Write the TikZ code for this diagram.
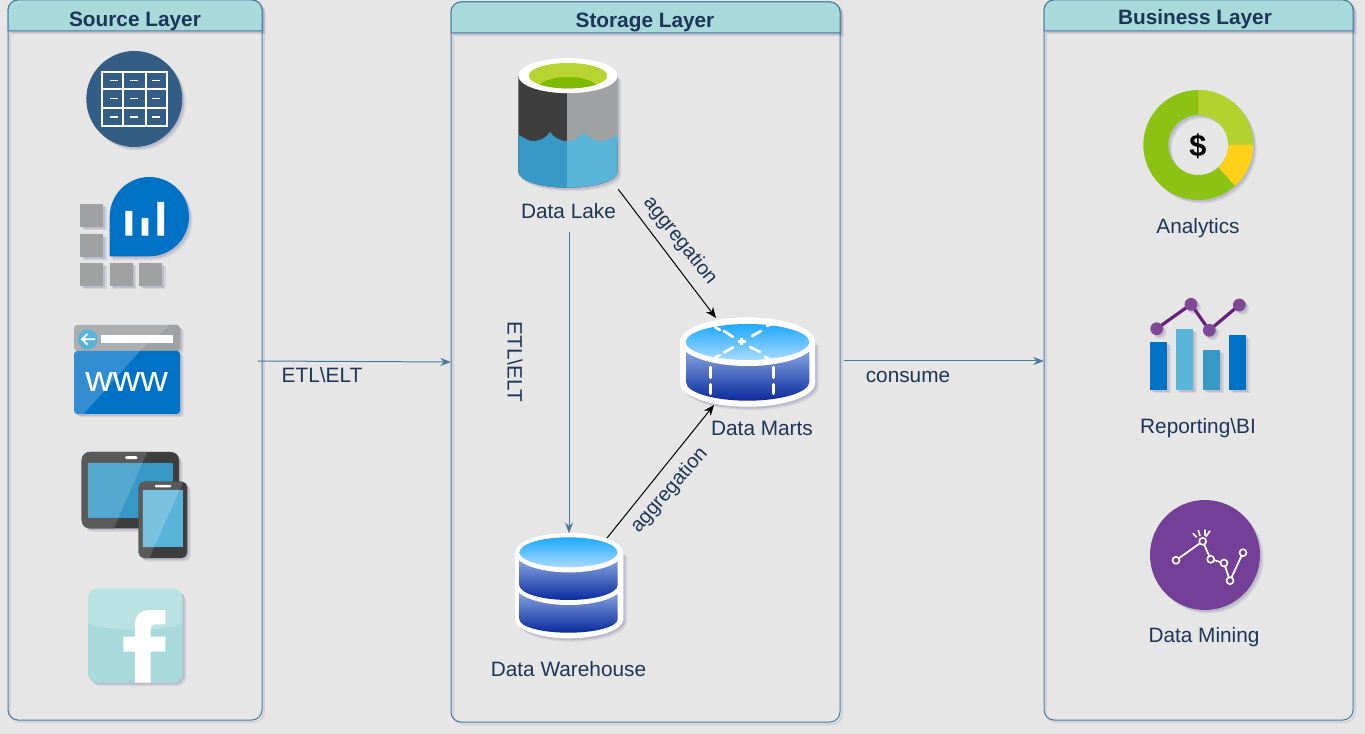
\documentclass[tikz,border=0pt]{standalone}
\usepackage{fontspec}
\setmainfont{Liberation Sans}
\usetikzlibrary{arrows.meta}
\definecolor{bgc}{HTML}{E6E6E6}
\definecolor{headc}{HTML}{A8DADC}
\definecolor{linec}{HTML}{457B9D}
\definecolor{txtc}{HTML}{1D3557}
\definecolor{shc}{HTML}{4A4A80}
\definecolor{msblue}{HTML}{0072C6}
\definecolor{msgray}{HTML}{A0A1A3}
\definecolor{mslblue}{HTML}{59B4D9}
\definecolor{msmblue}{HTML}{3999C6}
\definecolor{msdark}{HTML}{3E3E3E}
\definecolor{msmid}{HTML}{5A5A5A}
\definecolor{tablec}{HTML}{335D85}
\definecolor{purplec}{HTML}{743F96}
\definecolor{purpled}{HTML}{68217A}
\definecolor{purplel}{HTML}{804998}
\definecolor{greenm}{HTML}{8CC214}
\definecolor{greenl}{HTML}{B4D22E}
\definecolor{yellowc}{HTML}{FFD01A}
\definecolor{lakeg}{HTML}{B8D432}
\definecolor{lakeh}{HTML}{7FBA00}
\definecolor{topa}{HTML}{1FA9FF}
\definecolor{topb}{HTML}{A8DAFF}
\definecolor{sidea}{HTML}{86A4DE}
\definecolor{sideb}{HTML}{0A2A9E}
\def\px{.75pt}
\tikzset{
  x=.75pt,y=-.75pt,
  sh/.style={
    preaction={draw=none,fill=shc,fill opacity=.12,transform canvas={shift={(3.5,3.5)}}},
    preaction={draw=none,fill=shc,fill opacity=.16,transform canvas={shift={(2,2)}}}},
  panel/.style={draw=linec,line width=\px,rounded corners=7.5pt,inner sep=0pt,
    preaction={draw=shc,draw opacity=.12,line width=1.5pt,transform canvas={shift={(2,2)}}}},
  panelhead/.style={draw=linec,fill=headc,line width=\px,sh},
  title/.style={font=\fontsize{15.6pt}{18pt}\selectfont\bfseries,text=txtc,inner sep=0pt},
  lbl/.style={font=\fontsize{15.6pt}{18pt}\selectfont,text=txtc,inner sep=0pt},
  rlbl/.style={font=\fontsize{15pt}{18pt}\selectfont,text=txtc,inner sep=0pt},
  iconbox/.style={inner sep=0pt,draw=none},
  flow/.style={draw=linec,line width=\px,-{Stealth[length=8pt,width=6pt]}},
  blackflow/.style={draw=black,line width=\px,-{Stealth[length=8pt,width=6.5pt]}},
  tline/.style={draw=white,line width=1.3pt},
  tdash/.style={draw=white,line width=1.1pt},
  mdash/.style={draw=white,line width=2.4pt,line cap=round},
}
\begin{document}
\begin{tikzpicture}
\useasboundingbox (0,0) rectangle (1365,734);
\fill[bgc] (0,0) rectangle (1365,734);

%% panels
\node[panel,minimum width=254*\px,minimum height=720*\px] (source) at (135,360) {};
\node[panel,minimum width=389*\px,minimum height=720*\px] (storage) at (645.5,362) {};
\node[panel,minimum width=309*\px,minimum height=720*\px] (business) at (1198.5,360) {};
\path[panelhead] (8,31) [rounded corners=7.5pt] -- (8,0) -- (262,0) [sharp corners] -- (262,31) -- cycle;
\path[panelhead] (451,33) [rounded corners=7.5pt] -- (451,2) -- (840,2) [sharp corners] -- (840,33) -- cycle;
\path[panelhead] (1044,31) [rounded corners=7.5pt] -- (1044,0) -- (1353,0) [sharp corners] -- (1353,31) -- cycle;
\node[title] (t1) at (135,21) {Source Layer};
\node[title] (t2) at (645,22) {Storage Layer};
\node[title] (t3) at (1195,19) {Business Layer};

%% table icon
\fill[tablec,sh] (134.3,99) circle (48);
\draw[tline] (102.3,71.7) rectangle (166.7,126);
\draw[tline] (102.3,89) -- (166.7,89) (102.3,108.3) -- (166.7,108.3) (123,71.7) -- (123,126) (145.7,71.7) -- (145.7,126);
\foreach \cx in {113.5,134.3,156}{\foreach \cy in {80.5,98.7,117}{\draw[tdash] (\cx-4,\cy) -- (\cx+4,\cy);}}

%% squares + drop
\foreach \qx/\qy in {80/204,80/233.7,80/263,109.7/263,139/263}{\fill[msgray,sh] (\qx,\qy) rectangle ++(23,23);}
\fill[msblue,sh] (109.7,256.3) -- (109.7,216.7) .. controls (109.7,194.8) and (127.4,177) .. (149.3,177)
  .. controls (171.2,177) and (189,194.8) .. (189,216.7) .. controls (189,238.6) and (171.2,256.3) .. (149.3,256.3) -- cycle;
\fill[white] (125.3,211) rectangle (132.3,235.7) (141.7,218) rectangle (148.3,235.7) (157.3,202) rectangle (164,235.7);

%% www
\fill[msgray,sh,rounded corners=2.5pt] (74,351) -- (74,325) -- (180,325) -- (180,351) -- cycle;
\fill[msblue,sh,rounded corners=2.5pt] (74,351) -- (74,414) -- (180,414) -- (180,351) -- cycle;
\fill[white,opacity=.2] (74,351) -- (74,414) -- (83.5,414) -- (140,351) -- cycle;
\fill[white,opacity=.14,rounded corners=2pt] (74,351) -- (74,325) -- (170,325) -- (140,351) -- cycle;
\fill[mslblue] (87.7,339.3) circle (10);
\draw[white,line width=1.3pt] (82,339.3) -- (95,339.3) (87.5,334) -- (82,339.3) -- (87.5,344.6);
\fill[white] (101.3,335) rectangle (172.7,343.3);
\node[iconbox,text=white,font=\fontsize{27pt}{27pt}\selectfont,xscale=1.06] (www) at (126.7,381.5) {www};

%% devices
\fill[msdark,sh,rounded corners=6pt] (81.7,452) rectangle (179,528.3);
\begin{scope}
\clip[rounded corners=6pt] (81.7,452) rectangle (179,528.3);
\fill[msmid] (81.7,452) -- (147.3,452) -- (114,528.3) -- (81.7,528.3) -- cycle;
\end{scope}
\fill[msmblue] (87.7,462.7) rectangle (172.7,517.7);
\fill[white,opacity=.14] (87.7,462.7) -- (142.6,462.7) -- (118.6,517.7) -- (87.7,517.7) -- cycle;
\fill[white,rounded corners=1.1pt] (125,456.2) rectangle (137.6,459.2);
\fill[msdark,sh,rounded corners=4pt] (138.7,481.7) rectangle (187.3,558);
\begin{scope}
\clip[rounded corners=4pt] (138.7,481.7) rectangle (187.3,558);
\fill[msmid] (138.7,481.7) -- (183.3,481.7) -- (149.3,558) -- (138.7,558) -- cycle;
\end{scope}
\fill[mslblue] (142.7,490) rectangle (183.3,547.3);
\fill[white,opacity=.2] (142.7,490) -- (179.6,490) -- (154,547.3) -- (142.7,547.3) -- cycle;
\fill[white,rounded corners=1pt] (154.5,484.8) rectangle (171.5,487.3);

%% facebook
\fill[headc,sh,rounded corners=7pt] (88,588.7) rectangle (182.7,682.7);
\begin{scope}
\clip[rounded corners=7pt] (88,588.7) rectangle (182.7,682.7);
\fill[white,opacity=.22] (88,588.7) -- (182.7,588.7) -- (182.7,623.5) .. controls (160,632) and (110,632) .. (88,623.5) -- cycle;
\end{scope}
\fill[white] (135,682.7) -- (135,651.7) -- (123.3,651.7) -- (123.3,636.7) -- (135,636.7) -- (135,625)
  .. controls (135,615) and (141,610) .. (150,610) -- (165.3,610) -- (165.3,624.3) -- (156,624.3)
  .. controls (152,624.3) and (150.7,626) .. (150.7,630) -- (150.7,636.7) -- (165.3,636.7) -- (165.3,651.7) -- (150.7,651.7) -- (150.7,682.7) -- cycle;

%% data lake
\node[iconbox,minimum width=100*\px,minimum height=130*\px] (lake) at (568,124) {};
\fill[msdark,sh] (518.3,75.7) -- (518.3,171.7) .. controls (518.3,180.5) and (540,187.7) .. (568,187.7)
  .. controls (596,187.7) and (617.7,180.5) .. (617.7,171.7) -- (617.7,75.7) -- cycle;
\fill[msgray] (567,75.7) rectangle (617.7,141);
\fill[msmblue] (518.3,135) .. controls (525,138) and (528,141) .. (533,141)
  .. controls (541,141) and (547,137) .. (550,131.7) .. controls (553,137) and (559,141) .. (567,141)
  -- (567,187.7) .. controls (540,187.7) and (518.3,180.5) .. (518.3,171.7) -- cycle;
\fill[mslblue] (567,141) .. controls (575,141) and (581,137) .. (584,131.7)
  .. controls (587,137) and (593,141) .. (601,141) .. controls (607,141) and (612,138) .. (617.7,135)
  -- (617.7,171.7) .. controls (617.7,180.5) and (596,187.7) .. (567,187.7) -- cycle;
\fill[white] (568,75.7) ellipse [x radius=49.7,y radius=17.5];
\fill[lakeg] (568,75.7) ellipse [x radius=39.3,y radius=12.7];
\begin{scope}
\clip (568,75.7) ellipse [x radius=39.3,y radius=12.7];
\fill[lakeh] (568,91) ellipse [x radius=32,y radius=14];
\end{scope}
\node[lbl] (lakeLabel) at (568.5,211) {Data Lake};

%% data marts
\node[iconbox,minimum width=135*\px,minimum height=90*\px] (marts) at (747.5,362) {};
\fill[white,sh] (680,341.7) -- (680,383) .. controls (680,396) and (710,406.7) .. (747.5,406.7)
  .. controls (785,406.7) and (815,396) .. (815,383) -- (815,341.7) -- cycle;
\shade[top color=sidea,bottom color=sideb] (686,351) -- (686,382) .. controls (686,392.5) and (714,400.7) .. (747.5,400.7)
  .. controls (781,400.7) and (809.3,392.5) .. (809.3,382) -- (809.3,351) -- cycle;
\fill[white] (747.5,341.7) ellipse [x radius=67.5,y radius=24.3];
\shade[top color=topa,bottom color=topb] (747.5,342) ellipse [x radius=61.7,y radius=18];
\foreach \ax/\ay/\bx/\by in {715/327/720/330, 724/331/733/337, 750/347/760/352, 765/357/772/361, 767/326/773/323.5, 752/336/761/331, 724/352.5/733/347.5, 714/358/720/355}{\draw[white,line width=2pt,line cap=round] (\ax,\ay) -- (\bx,\by);}
\draw[white,line width=2.2pt] (737.5,341.7) -- (746,341.7) (741.7,338) -- (741.7,345.5);
\draw[mdash] (710.7,367.3) -- (710.7,377.5) (710.7,384.5) -- (710.7,393.5) (773.3,367.3) -- (773.3,377.5) (773.3,384.5) -- (773.3,393.5);
\node[lbl] (martsLabel) at (762,428) {Data Marts};

%% data warehouse
\node[iconbox,minimum width=108*\px,minimum height=105*\px] (wh) at (569,586) {};
\fill[white,sh] (515,552.7) -- (515,619) .. controls (515,630) and (540,638.3) .. (569,638.3)
  .. controls (598,638.3) and (623.3,630) .. (623.3,619) -- (623.3,552.7) -- cycle;
\shade[top color=sidea,bottom color=sideb] (519.3,592) -- (519.3,619) .. controls (519.3,627) and (542,632.7) .. (568.5,632.7)
  .. controls (595,632.7) and (617.7,627) .. (617.7,619) -- (617.7,592) -- cycle;
\fill[white] (569,585) ellipse [x radius=54,y radius=20];
\shade[top color=sidea,bottom color=sideb] (519.3,560) -- (519.3,585) .. controls (519.3,593.5) and (542,600) .. (568.5,600)
  .. controls (595,600) and (617.7,593.5) .. (617.7,585) -- (617.7,560) -- cycle;
\fill[white] (569,552.7) ellipse [x radius=54,y radius=19.7];
\shade[top color=topa,bottom color=topb] (568.5,552.3) ellipse [x radius=49,y radius=15];
\node[lbl] (whLabel) at (568.5,669) {Data Warehouse};

%% analytics
\fill[shc,fill opacity=.12,even odd rule,transform canvas={shift={(3.5,3.5)}}] (1198.3,145) circle (55) (1198.3,145) circle (30);
\fill[shc,fill opacity=.16,even odd rule,transform canvas={shift={(2,2)}}] (1198.3,145) circle (55) (1198.3,145) circle (30);
\fill[greenm,even odd rule] (1198.3,145) circle (55) (1198.3,145) circle (30);
\fill[greenl] (1198.3,90) -- (1198.3,115) arc [start angle=-90,end angle=0,radius=30] -- (1253.3,145) arc [start angle=0,end angle=-90,radius=55] -- cycle;
\fill[yellowc] (1228.3,145) -- (1253.3,145) arc [start angle=0,end angle=48,radius=55] -- (1218.4,167.3) arc [start angle=48,end angle=0,radius=30] -- cycle;
\node[iconbox,font=\fontsize{23pt}{23pt}\selectfont\bfseries,text=black] (dollar) at (1198,146) {\$};
\node[lbl] (anLabel) at (1198,228) {Analytics};

%% reporting
\fill[msblue,sh] (1150,342) rectangle (1167,390);
\fill[mslblue,sh] (1176.3,329) rectangle (1193.3,390);
\fill[msmblue,sh] (1203,349.7) rectangle (1220,390);
\fill[msblue,sh] (1229.3,335.3) rectangle (1246.3,390);
\draw[purpled,line width=2.4pt] (1156.7,328.7) -- (1191,304.3) -- (1209.3,330.3) -- (1239.3,305);
\foreach \dx/\dy in {1156.7/328.7,1191/304.3,1209.3/330.3,1239.3/305}{\fill[purplel,sh] (\dx,\dy) circle (6.4);}
\node[lbl] (repLabel) at (1198,428) {Reporting\textbackslash BI};

%% mining
\fill[purplec,sh] (1205,555) circle (55);
\draw[white,line width=1.3pt] (1176,560.3) -- (1202.7,541.3) -- (1210.7,559.3) -- (1224,563) -- (1230,580.7) -- (1243,552.7);
\foreach \dx/\dy in {1176/560.3,1202.7/541.3,1210.7/559.3,1224/563,1230/580.7,1243/552.7}{\filldraw[draw=white,fill=purplec,line width=1.2pt] (\dx,\dy) circle (3.5);}
\draw[white,line width=1.2pt] (1192.7,533.3) -- (1196.7,537.3) (1198.3,530) -- (1200,536) (1205,529.5) -- (1205,535.5) (1210,530.7) -- (1206,536.7);
\node[lbl] (minLabel) at (1204,637) {Data Mining};

%% connectors
\coordinate (srcOut) at (258,361);
\coordinate (stoIn) at (451,362);
\coordinate (stoOut) at (844,361);
\coordinate (busIn) at (1044,361);
\coordinate (lakeOut) at (569,232);
\coordinate (martsTop) at (716,318);
\coordinate (whOut) at (607,538);
\coordinate (martsBot) at (714,405);
\draw[flow] (srcOut) -- (stoIn);
\draw[flow] (stoOut) -- (busIn);
\draw[flow] (lakeOut) -- (wh.north);
\draw[blackflow] (lake.south east) -- (martsTop);
\draw[blackflow] (whOut) -- (martsBot);

%% connector labels
\node[lbl] (l1) at (322,375) {ETL\textbackslash ELT};
\node[lbl,rotate=-90] (l2) at (515,362) {ETL\textbackslash ELT};
\node[rlbl,rotate=-51.5] (l3) at (680,241) {aggregation};
\node[rlbl,rotate=49] (l4) at (669.5,490.5) {aggregation};
\node[lbl] (l5) at (908,377) {consume};
\end{tikzpicture}
\end{document}
